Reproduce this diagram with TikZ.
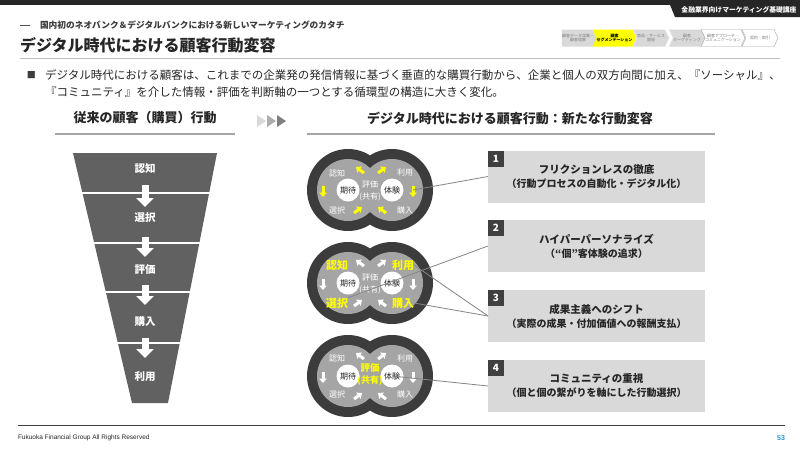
\documentclass[tikz,border=0pt]{standalone}
\usepackage{fontspec}
\setmainfont{Noto Sans CJK JP}
\newfontfamily\footfont{Liberation Sans}
\usetikzlibrary{arrows.meta,shapes.symbols,calc}
\newcommand{\FSet}[2]{\fontsize{#1}{#2}\selectfont}
\definecolor{txt}{HTML}{262626}
\definecolor{barc}{HTML}{262626}
\definecolor{funnelc}{HTML}{616161}
\definecolor{ringdark}{HTML}{3C3C3C}
\definecolor{ringgray}{HTML}{A5A5A5}
\definecolor{boxgray}{HTML}{D9D9D9}
\definecolor{tagdark}{HTML}{404040}
\definecolor{ylw}{HTML}{FFFF00}
\definecolor{linegray}{HTML}{858585}
\definecolor{rulegray}{HTML}{BFBFBF}
\definecolor{pagenum}{HTML}{1E96D2}
\definecolor{steptxt}{HTML}{7F7F7F}
\newcommand{\RingBody}[1]{%
  \fill[ringdark] (348,#1) circle[radius=41pt] (392,#1) circle[radius=41pt];
  \fill[ringgray] (348,#1) circle[radius=31pt] (392,#1) circle[radius=31pt];}
\newcommand{\RingArrows}[2]{%
  \draw[ringarr,#2] (364,#1-17) -- (356,#1-23);
  \draw[ringarr,#2] (378,#1-17) -- (386,#1-23);
  \draw[ringarr,#2] (323,#1-4) -- (323,#1+7);
  \draw[ringarr,#2] (413,#1-4) -- (413,#1+7);
  \draw[ringarr,#2] (354,#1+23) -- (362,#1+17);
  \draw[ringarr,#2] (386,#1+23) -- (378,#1+17);}
\begin{document}
\begin{tikzpicture}[x=1pt,y=-1pt,
  every node/.style={inner sep=0pt,outer sep=0pt},
  stepbox/.style={signal, signal to=east, signal pointer angle=130, minimum width=36pt, minimum height=17pt, inner sep=0pt, align=center, text=steptxt, font=\FSet{4}{4.8}},
  funlbl/.style={text=white, font=\bfseries\FSet{10.5}{12}},
  downarr/.style={draw=white, line width=7pt, -{Triangle[width=17pt,length=9pt]}},
  ringarr/.style={line width=3pt, -{Triangle[width=7.5pt,length=4.5pt]}},
  rlbl/.style={text=white, font=\FSet{8}{9}},
  rbig/.style={text=ylw, font=\bfseries\FSet{11}{12}},
  center/.style={circle, fill=white, minimum size=23pt, text=txt, font=\FSet{8}{9}},
  numbox/.style={fill=boxgray, minimum width=217pt, minimum height=52pt, align=center, text=txt, font=\bfseries\FSet{10.5}{14}},
  tag/.style={fill=tagdark, text=white, minimum size=16pt, font=\bfseries\FSet{10}{10}},
  conn/.style={draw=linegray, line width=0.8pt},
  heading/.style={text=txt, font=\bfseries\FSet{13}{15}},
  hrule/.style={draw=ringgray, line width=1.5pt}]
\useasboundingbox (0,0) rectangle (800,450);
\fill[white] (0,0) rectangle (800,450);
% top bar
\fill[barc] (0,0) rectangle (800,5);
\fill[barc] (668,0) -- (800,0) -- (800,17) -- (675,17) -- cycle;
\node[text=white,font=\bfseries\FSet{6.8}{8}] (course) at (739,9.5) {金融業界向けマーケティング基礎講座};
% titles
\draw[draw=txt!80,line width=1pt] (20,25) -- (30,25);
\node[anchor=west,text=txt!90,font=\bfseries\FSet{8.7}{10}] (sub) at (40,25) {国内初のネオバンク＆デジタルバンクにおける新しいマーケティングのカタチ};
\node[anchor=west,text=txt,font=\bfseries\FSet{16}{18}] (title) at (20,45) {デジタル時代における顧客行動変容};
\draw[draw=rulegray,line width=0.8pt] (20,58) -- (780,58);
% step chevrons
\node[stepbox,fill=boxgray] (s1) at (578,38) {顧客データ収集・\\顧客理解};
\node[stepbox,fill=ylw,text=black,font=\bfseries\FSet{4}{4.8},signal from=west] (s2) at (614.5,38) {顧客\\セグメンテーション};
\node[stepbox,fill=boxgray,signal from=west] (s3) at (651,38) {商品・サービス\\開発};
\node[stepbox,fill=boxgray,signal from=west] (s4) at (687,38) {顧客\\ターゲティング};
\node[stepbox,fill=white,draw=ringgray,line width=0.4pt,signal from=west] (s5) at (723,38) {顧客アプローチ・\\コミュニケーション};
\node[stepbox,fill=white,draw=ringgray,line width=0.4pt,signal from=west] (s6) at (760,38) {契約・取引};
% bullet text
\node[anchor=west,text=txt!90,font=\FSet{9}{9}] (sq) at (27,75) {■};
\node[anchor=west,text=txt,font=\FSet{11.5}{13}] (bl1) at (45,75) {デジタル時代における顧客は、これまでの企業発の発信情報に基づく垂直的な購買行動から、企業と個人の双方向間に加え、『ソーシャル』、};
\node[anchor=west,text=txt,font=\FSet{11.5}{13}] (bl2) at (45,92) {『コミュニティ』を介した情報・評価を判断軸の一つとする循環型の構造に大きく変化。};
% headings
\node[heading] (h1) at (145,118) {従来の顧客（購買）行動};
\draw[hrule] (55,134) -- (235,134);
\node[heading] (h2) at (510,118) {デジタル時代における顧客行動：新たな行動変容};
\draw[hrule] (307,134) -- (715,134);
\fill[boxgray] (257,115) -- (266,121) -- (257,127) -- cycle;
\fill[ringgray!90] (267,115) -- (276,121) -- (267,127) -- cycle;
\fill[steptxt] (277,115) -- (286,121) -- (277,127) -- cycle;
% funnel
\fill[funnelc] (73,153) -- (217,153) -- (168,403) -- (132,403) -- cycle;
\foreach \yy in {193,243,292,343} \draw[white,line width=2pt] (60,\yy) -- (230,\yy);
\node[funlbl] (f1) at (145,168) {認知};
\node[funlbl] (f2) at (145,218) {選択};
\node[funlbl] (f3) at (145,270) {評価};
\node[funlbl] (f4) at (145,322) {購入};
\node[funlbl] (f5) at (145,377) {利用};
\draw[downarr] ($(f1.center)+(0,17)$) -- ($(f2.center)+(0,-11)$);
\draw[downarr] ($(f2.center)+(0,19)$) -- ($(f3.center)+(0,-13)$);
\draw[downarr] ($(f3.center)+(0,15)$) -- ($(f4.center)+(0,-17)$);
\draw[downarr] ($(f4.center)+(0,16)$) -- ($(f5.center)+(0,-19)$);
% ring group 1
\RingBody{190}
\node[center] (g1ki) at (348,190) {期待};
\node[center] (g1ta) at (392,190) {体験};
\RingArrows{190}{ylw}
\node[rlbl] (g1kn) at (337,173) {認知};
\node[rlbl] (g1ri) at (405,173) {利用};
\node[rlbl] (g1se) at (337,210) {選択};
\node[rlbl] (g1ko) at (405,210) {購入};
\node[rlbl] (g1hy) at (370,184) {評価};
\node[rlbl] (g1ky) at (370,197) {(共有)};
\coordinate (g1r) at (413,190);
% ring group 2
\RingBody{283}
\node[center] (g2ki) at (348,283) {期待};
\node[center] (g2ta) at (392,283) {体験};
\RingArrows{283}{white}
\node[rbig] (g2kn) at (337,265) {認知};
\node[rbig] (g2ri) at (403,265) {利用};
\node[rbig] (g2se) at (337,303) {選択};
\node[rbig] (g2ko) at (403,303) {購入};
\node[rlbl] (g2hy) at (370,277) {評価};
\node[rlbl] (g2ky) at (370,290) {(共有)};
% ring group 3
\RingBody{376}
\node[center] (g3ki) at (348,376) {期待};
\node[center] (g3ta) at (392,376) {体験};
\RingArrows{376}{white}
\node[rlbl] (g3kn) at (337,358) {認知};
\node[rlbl] (g3ri) at (405,358) {利用};
\node[rlbl] (g3se) at (337,394) {選択};
\node[rlbl] (g3ko) at (405,394) {購入};
\node[text=ylw,font=\bfseries\FSet{9.5}{10}] (g3hy) at (370,368) {評価};
\node[text=ylw,font=\bfseries\FSet{9}{10}] (g3ky) at (370,381) {(共有)};
% boxes
\node[numbox] (b1) at (596.5,176.5) {フリクションレスの徹底\\{\FSet{10}{14}（行動プロセスの自動化・デジタル化）}};
\node[numbox] (b2) at (596.5,246) {ハイパーパーソナライズ\\{\FSet{10}{14}（“個”客体験の追求）}};
\node[numbox] (b3) at (596.5,316) {成果主義へのシフト\\{\FSet{10}{14}（実際の成果・付加価値への報酬支払）}};
\node[numbox] (b4) at (596.5,386) {コミュニティの重視\\{\FSet{10}{14}（個と個の繋がりを軸にした行動選択）}};
\node[tag,anchor=north west] (t1) at (b1.north west) {1};
\node[tag,anchor=north west] (t2) at (b2.north west) {2};
\node[tag,anchor=north west] (t3) at (b3.north west) {3};
\node[tag,anchor=north west] (t4) at (b4.north west) {4};
% connectors
\draw[conn] (g1r) -- (b1.west);
\draw[conn] (g2se.north east) -- (b2.west);
\draw[conn] (g2ri.east) -- (b3.west);
\draw[conn] (g2ko.east) -- (b3.west);
\draw[conn] (g3ta.center) -- (b4.west);
% footer
\draw[draw=tagdark,line width=0.8pt] (18,425) -- (785,425);
\node[anchor=west,text=txt,font=\footfont\FSet{6.5}{8}] (foot) at (18,438) {Fukuoka Financial Group All Rights Reserved};
\node[anchor=east,text=pagenum,font=\footfont\bfseries\FSet{7}{8}] (pg) at (785,438) {53};
\end{tikzpicture}
\end{document}
